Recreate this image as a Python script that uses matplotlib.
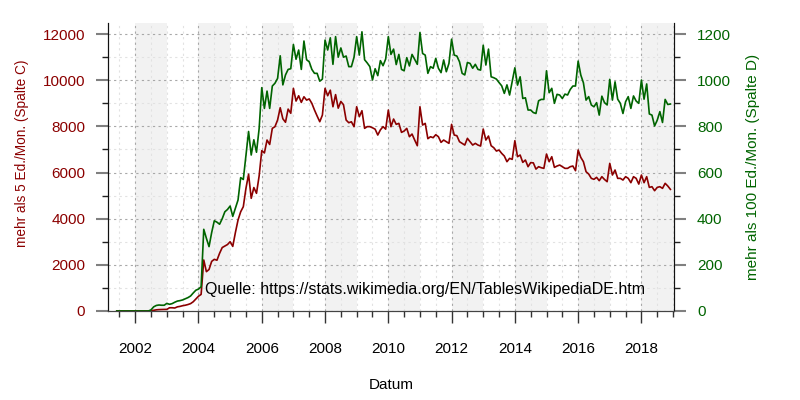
import numpy as np
import matplotlib
matplotlib.use("Agg")
import matplotlib.pyplot as plt
from matplotlib.ticker import MultipleLocator

plt.rcParams['font.family'] = ['Liberation Sans', 'DejaVu Sans']

# monthly values, first month = June 2001
start_year = 2001
start_month = 6

# mehr als 5 Ed./Mon. (Spalte C)
spalte_c = [
    0, 0, 0, 0, 0, 0, 0,                                                  # 2001
    0, 0, 0, 0, 0, 0, 10, 30, 50, 60, 65, 68,                             # 2002
    70, 140, 140, 130, 180, 200, 230, 250, 280, 320, 400, 520,            # 2003
    640, 720, 2210, 1704, 1800, 2150, 2240, 2200, 2500, 2750, 2816, 2880,  # 2004
    3003, 2800, 3400, 3943, 4300, 4520, 5316, 5923, 4883, 5350, 5100, 5850,  # 2005
    6950, 6850, 7409, 7217, 7916, 7988, 8276, 8809, 8330, 8180, 8750, 8570,  # 2006
    9649, 9099, 9329, 9040, 9285, 9140, 9190, 8999, 8710, 8450, 8203, 8492,  # 2007
    9649, 9329, 9570, 8852, 9378, 8790, 9080, 8940, 8276, 8160, 8200, 7988,  # 2008
    8852, 8420, 8680, 7916, 7990, 7990, 7940, 7880, 7626, 7850, 7990, 7880,  # 2009
    8709, 7987, 8319, 8089, 8132, 7742, 7799, 7916, 7553, 7669, 7409, 7163,  # 2010
    8852, 8059, 8132, 7467, 7553, 7510, 7640, 7553, 7308, 7409, 7337, 7265,  # 2011
    8089, 7626, 7597, 7337, 7265, 7192, 7481, 7337, 7192, 7265, 7192, 7149,  # 2012
    7886, 7409, 7582, 7163, 7077, 6932, 6976, 6831, 6716, 6470, 6615, 6571,  # 2013
    7380, 6687, 6759, 6441, 6543, 6254, 6430, 6420, 6150, 6254, 6210, 6182,  # 2014
    6802, 6470, 6687, 6225, 6283, 6326, 6254, 6182, 6182, 6254, 6283, 6080,  # 2015
    6976, 6658, 6470, 6037, 5936, 5749, 5706, 5793, 5648, 5821, 5700, 5604,  # 2016
    6399, 5893, 6110, 5749, 5749, 5676, 5821, 5749, 5561, 5821, 5749, 5500,  # 2017
    5893, 5561, 5821, 5358, 5387, 5213, 5358, 5387, 5315, 5533, 5416, 5271,  # 2018
]

# mehr als 100 Ed./Mon. (Spalte D)
spalte_d = [
    0, 0, 0, 0, 0, 0, 0,                                                  # 2001
    0, 0, 0, 0, 0, 0, 5, 18, 24, 26, 25, 25,                              # 2002
    33, 29, 32, 38, 43, 45, 48, 53, 58, 65, 78, 90,                       # 2003
    95, 105, 354, 315, 279, 340, 391, 385, 376, 400, 430, 440,            # 2004
    455, 410, 445, 481, 578, 570, 676, 778, 676, 742, 688, 790,           # 2005
    968, 878, 953, 878, 975, 987, 1008, 1106, 980, 1023, 1047, 1050,      # 2006
    1155, 1091, 1131, 1047, 1170, 1089, 1080, 1047, 1030, 1030, 996, 1005,  # 2007
    1174, 1131, 1184, 1069, 1189, 1100, 1140, 1100, 1105, 1059, 1059, 1100,  # 2008
    1189, 1109, 1210, 1089, 1075, 1059, 1001, 1050, 1020, 1085, 1063, 1092,  # 2009
    1189, 1112, 1135, 1068, 1112, 1047, 1041, 1098, 1062, 1112, 1090, 1069,  # 2010
    1207, 1116, 1109, 1030, 1059, 1052, 1095, 1052, 1033, 1088, 1037, 1073,  # 2011
    1178, 1109, 1105, 1080, 1030, 1023, 1077, 1073, 1052, 1069, 1047, 1044,  # 2012
    1152, 1066, 1135, 1015, 1011, 1005, 990, 976, 943, 980, 936, 995,     # 2013
    1054, 979, 1015, 921, 924, 871, 871, 860, 856, 911, 917, 917,         # 2014
    1041, 946, 965, 900, 939, 936, 921, 940, 936, 960, 975, 975,          # 2015
    1083, 1023, 989, 914, 929, 893, 885, 903, 849, 931, 903, 893,         # 2016
    1004, 914, 993, 918, 900, 856, 907, 929, 878, 932, 910, 900,          # 2017
    1001, 918, 984, 854, 849, 802, 827, 864, 817, 917, 895, 897,          # 2018
]

shaded_years = [2002, 2004, 2006, 2008, 2010, 2012, 2014, 2016, 2018]
quelle = "Quelle: https://stats.wikimedia.org/EN/TablesWikipediaDE.htm"

red = "#8b0000"
green = "#006400"

t = start_year + (start_month - 1) / 12 + np.arange(len(spalte_c)) / 12

fig = plt.figure(figsize=(8, 4), dpi=100)
ax = fig.add_axes([0.1354, 0.2225, 0.7071, 0.7205])
ax2 = ax.twinx()

for y in shaded_years:
    ax.axvspan(y, y + 1, color="#f2f2f2", lw=0, zorder=0)

ax.plot(t, spalte_c, color=red, lw=1.2, zorder=3)
ax2.plot(t, spalte_d, color=green, lw=1.2, zorder=3)

ax.set_xlim(2001.15, 2019.03)
ax.set_ylim(0, 12490)
ax2.set_ylim(0, 1249)

ax.xaxis.set_major_locator(MultipleLocator(2))
ax.xaxis.set_minor_locator(MultipleLocator(0.5))
ax.yaxis.set_major_locator(MultipleLocator(2000))
ax.yaxis.set_minor_locator(MultipleLocator(1000))
ax2.yaxis.set_major_locator(MultipleLocator(200))
ax2.yaxis.set_minor_locator(MultipleLocator(100))

ax.set_axisbelow(True)
ax.grid(which="major", ls=(0, (2, 3)), color="#a8a8a8", lw=0.8, zorder=0.5)
ax.grid(which="minor", ls=(0, (2, 3)), color="#e2e2e2", lw=0.8, zorder=0.5)

ax.tick_params(axis="x", which="major", length=8.6, width=1, color="#333333",
               pad=14, labelsize=11)
ax.tick_params(axis="x", which="minor", length=4.3, width=1, color="#333333")
ax.tick_params(axis="y", which="major", length=8.6, width=1.5, color="#808080",
               pad=8, labelsize=11, labelcolor=red)
ax.tick_params(axis="y", which="minor", length=4.3, width=1, color="#222222")
ax2.tick_params(axis="y", which="major", length=8.6, width=1.5, color="#808080",
                pad=8, labelsize=11, labelcolor=green)
ax2.tick_params(axis="y", which="minor", length=4.3, width=1, color="#222222")

for a in (ax, ax2):
    a.spines["top"].set_visible(False)
    a.spines["left"].set_color("#111111")
    a.spines["right"].set_color("#111111")
    a.spines["bottom"].set_color("#444444")

ax.set_xlabel("Datum", fontsize=11, labelpad=15.5)
ax.set_ylabel("mehr als 5 Ed./Mon. (Spalte C)", color=red, fontsize=9.8, labelpad=10)
ax.yaxis.label.set_y(0.548)
ax2.set_ylabel("mehr als 100 Ed./Mon. (Spalte D)", color=green, fontsize=11, labelpad=11)

ax.text(2004.2, 950, quelle, fontsize=11.5, ha="left", va="center", zorder=5)

fig.savefig("out.png", dpi=100)
